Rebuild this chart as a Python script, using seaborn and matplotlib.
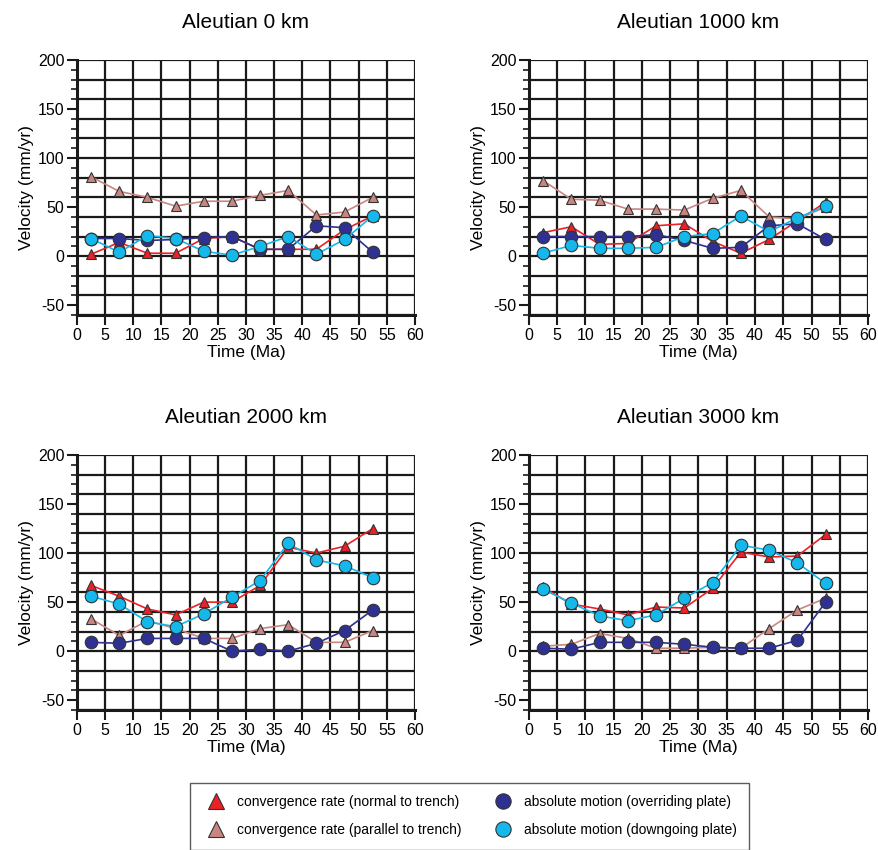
import numpy as np
import pandas as pd
import matplotlib
matplotlib.use('Agg')
import matplotlib.pyplot as plt
import seaborn as sns
from matplotlib.lines import Line2D
from matplotlib.ticker import MultipleLocator

sns.set_style('white')
plt.rcParams['font.family'] = ['Liberation Sans', 'DejaVu Sans']
plt.rcParams['text.color'] = 'black'
plt.rcParams['axes.labelcolor'] = 'black'
plt.rcParams['xtick.color'] = 'black'
plt.rcParams['ytick.color'] = 'black'
plt.rcParams['axes.unicode_minus'] = False

# Tempo (Ma) - centro de cada intervalo de 5 Ma
time_ma = [2.5, 7.5, 12.5, 17.5, 22.5, 27.5, 32.5, 37.5, 42.5, 47.5, 52.5]

panel_titles = ['Aleutian 0 km', 'Aleutian 1000 km', 'Aleutian 2000 km', 'Aleutian 3000 km']

# convergence rate (normal to trench)
normal_0 = [2, 14, 3, 3, 18, 20, 7, 7, 7, 27, 41]
normal_1000 = [24, 30, 12, 13, 31, 33, 15, 3, 17, 36, 55]
normal_2000 = [67, 56, 43, 37, 50, 50, 67, 106, 100, 107, 125]
normal_3000 = [65, 48, 43, 37, 45, 44, 64, 101, 96, 97, 119]

# convergence rate (parallel to trench)
parallel_0 = [81, 66, 60, 51, 56, 56, 62, 67, 42, 45, 60]
parallel_1000 = [77, 58, 57, 48, 48, 47, 59, 67, 40, 38, 50]
parallel_2000 = [33, 16, 31, 23, 13, 13, 23, 27, 9, 9, 21]
parallel_3000 = [5, 7, 18, 13, 3, 3, 4, 3, 23, 42, 54]

# absolute motion (overriding plate)
overriding_0 = [18, 18, 16, 17, 19, 20, 7, 7, 31, 29, 4]
overriding_1000 = [20, 20, 20, 20, 22, 16, 8, 9, 31, 33, 17]
overriding_2000 = [9, 8, 13, 13, 13, 0, 2, 0, 8, 21, 42]
overriding_3000 = [3, 2, 9, 9, 9, 7, 4, 3, 3, 11, 50]

# absolute motion (downgoing plate)
downgoing_0 = [18, 4, 21, 18, 5, 1, 10, 20, 2, 17, 41]
downgoing_1000 = [3, 11, 8, 8, 9, 20, 23, 41, 25, 39, 51]
downgoing_2000 = [56, 48, 30, 25, 38, 55, 72, 110, 93, 87, 75]
downgoing_3000 = [63, 49, 36, 31, 37, 54, 70, 108, 103, 90, 69]

normal_all = [normal_0, normal_1000, normal_2000, normal_3000]
parallel_all = [parallel_0, parallel_1000, parallel_2000, parallel_3000]
overriding_all = [overriding_0, overriding_1000, overriding_2000, overriding_3000]
downgoing_all = [downgoing_0, downgoing_1000, downgoing_2000, downgoing_3000]

labels = ['convergence rate (normal to trench)', 'convergence rate (parallel to trench)',
          'absolute motion (overriding plate)', 'absolute motion (downgoing plate)']
colors = ['#ec2027', '#c98681', '#2e3192', '#14b8ea']
markers = ['^', '^', 'o', 'o']
msizes = [7, 7, 9, 9]

fig = plt.figure(figsize=(8.79, 8.5), dpi=100)
positions = [[0.0876, 0.6294, 0.3845, 0.30], [0.6018, 0.6294, 0.3857, 0.30],
             [0.0876, 0.1647, 0.3845, 0.30], [0.6018, 0.1647, 0.3857, 0.30]]

for i, pos in enumerate(positions):
    ax = fig.add_axes(pos)
    # grade
    for gy in np.arange(-60, 201, 20):
        ax.axhline(gy, color='#1a1a1a', lw=1.6, zorder=0)
    for gx in np.arange(0, 61, 5):
        ax.axvline(gx, color='#1a1a1a', lw=1.6, zorder=0)

    series = [normal_all[i], parallel_all[i], overriding_all[i], downgoing_all[i]]
    order = [1, 0, 2, 3]
    for k in order:
        df = pd.DataFrame({'time': time_ma, 'vel': series[k]})
        sns.lineplot(data=df, x='time', y='vel', ax=ax, color=colors[k], lw=1.2,
                     marker=markers[k], markersize=msizes[k], markeredgecolor='#333333',
                     markeredgewidth=0.8, zorder=3 + k)

    ax.set_xlim(0, 60)
    ax.set_ylim(-60, 200)
    ax.xaxis.set_major_locator(MultipleLocator(5))
    ax.yaxis.set_major_locator(MultipleLocator(50))
    ax.yaxis.set_minor_locator(MultipleLocator(10))
    ax.tick_params(axis='both', which='major', direction='out', length=7, width=1.5,
                   color='#1a1a1a', labelsize=11.5, pad=2, left=True, bottom=True)
    ax.tick_params(axis='y', which='minor', direction='out', length=4, width=1.2,
                   color='#1a1a1a', left=True)
    for side in ['top', 'right']:
        ax.spines[side].set_visible(False)
    for side in ['left', 'bottom']:
        ax.spines[side].set_linewidth(2.2)
        ax.spines[side].set_color('#1a1a1a')
    ax.set_xlabel('Time (Ma)', fontsize=12.5, labelpad=2)
    ax.set_ylabel('Velocity (mm/yr)', fontsize=12.5, labelpad=3)
    ax.set_title(panel_titles[i], fontsize=15, pad=23)

handles = [Line2D([], [], ls='none', marker=markers[k], markersize=11,
                  markerfacecolor=colors[k], markeredgecolor='#333333', markeredgewidth=0.8)
           for k in range(4)]
leg = fig.legend(handles, labels, ncol=2, loc='upper left', bbox_to_anchor=(0.216, 0.079),
                 fontsize=10, frameon=True, fancybox=False, edgecolor='#333333',
                 borderpad=0.9, labelspacing=1.0, columnspacing=2.0, handletextpad=0.5,
                 borderaxespad=0)
leg.get_frame().set_linewidth(1.0)

fig.savefig('out.png', dpi=100)
